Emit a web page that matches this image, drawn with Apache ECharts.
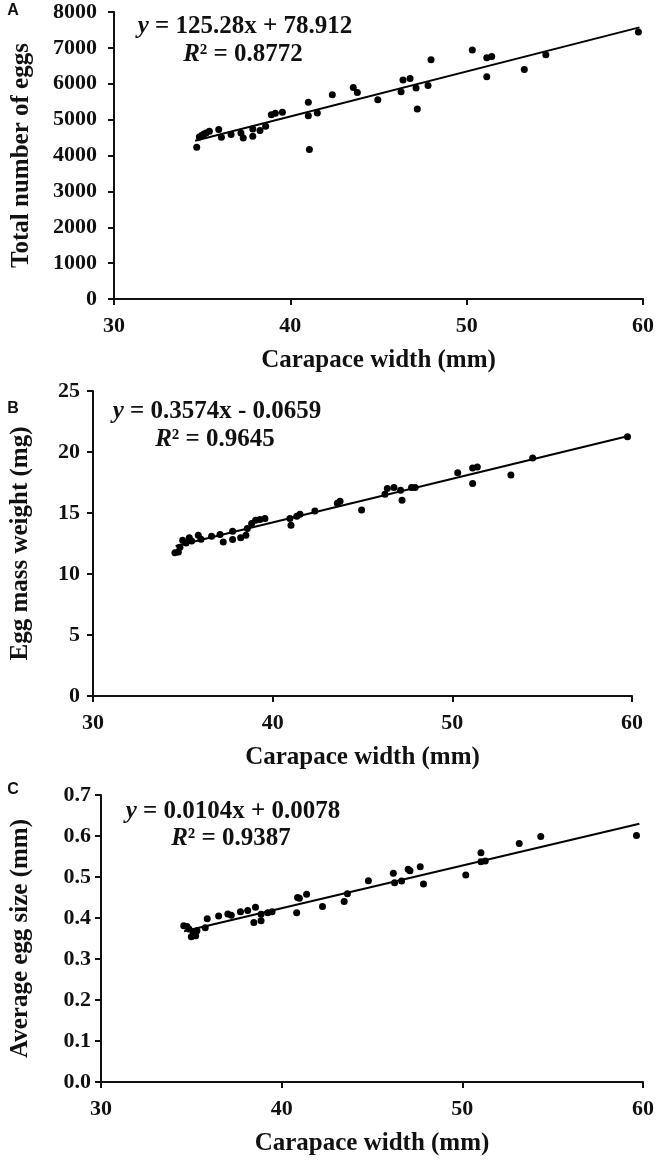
<!DOCTYPE html>
<html>
<head>
<meta charset="utf-8">
<script src="https://cdn.jsdelivr.net/npm/echarts@6/dist/echarts.min.js"></script>
<style>
  html, body { margin: 0; padding: 0; background: #fff; }
  #chart { width: 661px; height: 1163px; }
</style>
</head>
<body>
<div id="chart"></div>
<script>
// carapace width (mm) vs total number of eggs
var eggsData = [
  [34.69, 4231], [34.84, 4519], [34.97, 4556], [35.10, 4602], [35.22, 4630], [35.41, 4676],
  [35.94, 4722], [36.09, 4509], [36.64, 4583], [37.20, 4630], [37.33, 4491], [37.87, 4537],
  [37.87, 4741], [38.28, 4694], [38.60, 4815], [38.92, 5139], [39.15, 5176], [39.55, 5204],
  [41.02, 5481], [41.02, 5111], [41.08, 4167], [41.53, 5185], [42.38, 5694], [43.57, 5898],
  [43.80, 5759], [44.96, 5556], [46.28, 5778], [46.39, 6102], [46.79, 6148], [47.13, 5880],
  [47.20, 5296], [47.81, 5954], [47.98, 6667], [50.32, 6944], [51.14, 6722], [51.14, 6194],
  [51.42, 6759], [53.27, 6398], [54.49, 6806], [59.74, 7444]
];
// carapace width (mm) vs egg mass weight (mg)
var massData = [
  [34.56, 11.75], [34.75, 11.80], [34.84, 12.20], [34.99, 12.76], [35.18, 12.54], [35.36, 12.98],
  [35.49, 12.70], [35.86, 13.17], [36.01, 12.84], [36.60, 13.09], [37.07, 13.23], [37.25, 12.62],
  [37.77, 13.50], [37.77, 12.82], [38.22, 12.98], [38.51, 13.17], [38.59, 13.72], [38.83, 14.13],
  [39.05, 14.40], [39.29, 14.46], [39.57, 14.54], [40.96, 14.54], [41.02, 13.99], [41.34, 14.73],
  [41.52, 14.90], [42.35, 15.17], [43.60, 15.80], [43.75, 15.96], [44.95, 15.25], [46.25, 16.53],
  [46.38, 17.00], [46.75, 17.08], [47.12, 16.86], [47.20, 16.04], [47.73, 17.08], [47.93, 17.08],
  [50.30, 18.30], [51.13, 18.69], [51.39, 18.77], [51.13, 17.41], [53.26, 18.11], [54.47, 19.50],
  [59.75, 21.26]
];
// carapace width (mm) vs average egg size (mm)
var sizeData = [
  [34.58, 0.381], [34.76, 0.379], [34.87, 0.373], [35.09, 0.367], [35.00, 0.354], [35.24, 0.357],
  [35.31, 0.369], [35.77, 0.376], [35.88, 0.398], [36.51, 0.405], [37.02, 0.410], [37.21, 0.407],
  [37.72, 0.415], [38.12, 0.418], [38.55, 0.426], [38.46, 0.389], [38.86, 0.393], [38.86, 0.409],
  [39.23, 0.413], [39.47, 0.415], [40.83, 0.413], [40.88, 0.450], [40.98, 0.448], [41.38, 0.458],
  [42.26, 0.428], [43.46, 0.440], [43.64, 0.459], [44.80, 0.491], [46.18, 0.509], [46.25, 0.486],
  [46.64, 0.490], [47.00, 0.519], [47.10, 0.515], [47.67, 0.525], [47.85, 0.483], [50.19, 0.505],
  [51.03, 0.559], [51.03, 0.537], [51.27, 0.539], [53.15, 0.582], [54.34, 0.599], [59.64, 0.601]
];

// regression coefficients [slope, intercept] and fitted x range
var fitEggs = [125.28, 78.912];
var fitMass = [0.3574, -0.0659];
var fitSize = [0.0104, 0.0078];
var fitRange = [34.6, 59.8];

var yNames = ["Total number of eggs", "Egg mass weight (mg)", "Average egg size (mm)"];
var xName = "Carapace width (mm)";
var panelLetters = ["A", "B", "C"];
var eqTexts = ["{i|y} = 125.28x + 78.912", "{i|y} = 0.3574x - 0.0659", "{i|y} = 0.0104x + 0.0078"];
var r2Texts = ["{i|R}² = 0.8772", "{i|R}² = 0.9645", "{i|R}² = 0.9387"];

function trend(fit) {
  return fitRange.map(function (x) { return [x, fit[0] * x + fit[1]]; });
}

var serif = '"Liberation Serif", "Times New Roman", serif';

function xAxisOf(idx) {
  return {
    gridIndex: idx, type: "value", min: 30, max: 60, interval: 10,
    name: xName, nameLocation: "middle", nameGap: 49,
    nameTextStyle: { fontFamily: serif, fontWeight: "bold", fontSize: 25, color: "#111" },
    axisLine: { lineStyle: { color: "#111", width: 2 } },
    axisTick: { length: 6, lineStyle: { color: "#111", width: 2 } },
    axisLabel: { margin: 16, fontFamily: serif, fontWeight: "bold", fontSize: 22, color: "#111" },
    splitLine: { show: false }
  };
}

function yAxisOf(idx, max, interval, gap, margin, fmt) {
  return {
    gridIndex: idx, type: "value", min: 0, max: max, interval: interval,
    name: yNames[idx], nameLocation: "middle", nameGap: gap,
    nameTextStyle: { fontFamily: serif, fontWeight: "bold", fontSize: 25, color: "#111" },
    axisLine: { show: true, lineStyle: { color: "#111", width: 2 } },
    axisTick: { show: true, length: 6, lineStyle: { color: "#111", width: 2 } },
    axisLabel: { margin: margin, fontFamily: serif, fontWeight: "bold", fontSize: 22, color: "#111", formatter: fmt },
    splitLine: { show: false }
  };
}

function scatterOf(idx, data) {
  return {
    type: "scatter", xAxisIndex: idx, yAxisIndex: idx, data: data,
    symbolSize: 7, itemStyle: { color: "#000", opacity: 1 }, silent: true
  };
}

function lineOf(idx, fit) {
  return {
    type: "line", xAxisIndex: idx, yAxisIndex: idx, data: trend(fit),
    showSymbol: false, lineStyle: { color: "#000", width: 2 }, silent: true
  };
}

function textOf(x, y, txt, size) {
  return {
    type: "text", x: x, y: y,
    style: {
      text: txt, align: "center", verticalAlign: "middle",
      font: "bold " + size + "px " + serif, fill: "#111",
      rich: { i: { fontStyle: "italic", fontWeight: "bold", fontSize: size, fontFamily: serif } }
    }
  };
}

var eqPos = [[245, 27, 243, 55], [217, 412, 215, 440], [233, 812, 231, 839]];
var letterPos = [[13, 11], [13, 409], [13, 790]];

var graphics = [];
eqPos.forEach(function (p, i) {
  graphics.push(textOf(p[0], p[1], eqTexts[i], 25));
  graphics.push(textOf(p[2], p[3], r2Texts[i], 25));
});
letterPos.forEach(function (p, i) {
  graphics.push({
    type: "text", x: p[0], y: p[1],
    style: { text: panelLetters[i], align: "center", verticalAlign: "middle",
      font: "bold 16px Arial, 'Liberation Sans', sans-serif", fill: "#111" }
  });
});

var chart = echarts.init(document.getElementById("chart"), null, { renderer: "canvas" });
chart.setOption({
  animation: false,
  backgroundColor: "#fff",
  grid: [
    { left: 114, right: 18, top: 12, height: 287 },
    { left: 93, right: 29, top: 391, height: 305 },
    { left: 101, right: 18, top: 795, height: 287 }
  ],
  xAxis: [xAxisOf(0), xAxisOf(1), xAxisOf(2)],
  yAxis: [
    yAxisOf(0, 8000, 1000, 80, 17, function (v) { return String(v); }),
    yAxisOf(1, 25, 5, 60, 13),
    yAxisOf(2, 0.7, 0.1, 68, 10, function (v) { return v.toFixed(1); })
  ],
  series: [
    scatterOf(0, eggsData), lineOf(0, fitEggs),
    scatterOf(1, massData), lineOf(1, fitMass),
    scatterOf(2, sizeData), lineOf(2, fitSize)
  ],
  graphic: graphics
});
</script>
</body>
</html>
